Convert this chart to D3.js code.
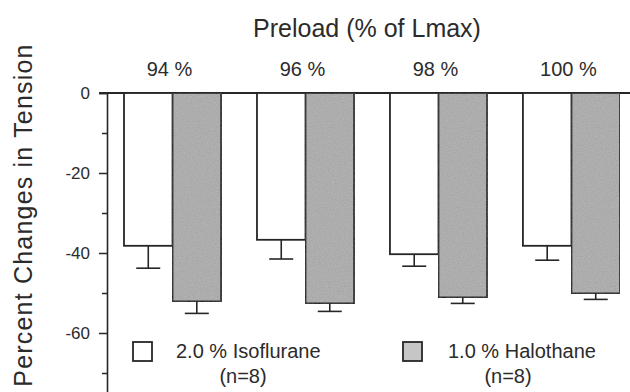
<!DOCTYPE html>
<html>
<head>
<meta charset="utf-8">
<script src="https://cdn.jsdelivr.net/npm/d3@7"></script>
<style>
  body { margin: 0; background: #fff; }
  svg text { font-family: "Liberation Sans", Arial, Helvetica, sans-serif; fill: #2b2b2b; }
</style>
</head>
<body>
<div id="chart"></div>
<script>
// Preload levels (% of Lmax)
const categories = ['94 %', '96 %', '98 %', '100 %'];
const seriesNames = ['2.0 % Isoflurane', '1.0 % Halothane'];
// Mean percent change in tension and SE
const isofluraneMean = [-38.2, -36.7, -40.3, -38.2];
const isofluraneSE = [5.6, 4.8, 3.0, 3.6];
const halothaneMean = [-52.1, -52.6, -51.1, -50.1];
const halothaneSE = [3.0, 2.0, 1.5, 1.5];
const yTicks = [0, -10, -20, -30, -40, -50, -60, -70];

const width = 630, height = 392;
const fills = ['#ffffff', '#b3b3b3'];
const ink = '#262626';

const svg = d3.select('#chart').append('svg')
    .attr('width', width)
    .attr('height', height);

// Texture granuleuse des barres grises
const defs = svg.append('defs');
const grain = defs.append('filter')
    .attr('id', 'grain')
    .attr('x', 0).attr('y', 0).attr('width', 1).attr('height', 1);
grain.append('feTurbulence')
    .attr('type', 'fractalNoise')
    .attr('baseFrequency', 0.8)
    .attr('numOctaves', 2)
    .attr('seed', 3)
    .attr('result', 'noise');
grain.append('feColorMatrix')
    .attr('in', 'noise')
    .attr('type', 'matrix')
    .attr('values', '0 0 0 0 0.2  0 0 0 0 0.2  0 0 0 0 0.2  0 0 0 0.5 -0.12')
    .attr('result', 'specks');
grain.append('feComposite')
    .attr('in', 'specks')
    .attr('in2', 'SourceGraphic')
    .attr('operator', 'in')
    .attr('result', 'clipped');
const merge = grain.append('feMerge');
merge.append('feMergeNode').attr('in', 'SourceGraphic');
merge.append('feMergeNode').attr('in', 'clipped');

const data = categories.map((c, i) => ({
    cat: c,
    bars: [
        { s: 0, mean: isofluraneMean[i], se: isofluraneSE[i] },
        { s: 1, mean: halothaneMean[i], se: halothaneSE[i] }
    ]
}));

// Échelles
const x0 = d3.scaleBand()
    .domain(categories)
    .range([124, 620])
    .paddingInner(0.27)
    .paddingOuter(0);

const x1 = d3.scaleBand()
    .domain([0, 1])
    .range([0, x0.bandwidth()]);

const y = d3.scaleLinear()
    .domain([0, -75])
    .range([93, 393]);

const axisX = 107;

// Axe Y (ticks majeurs + mineurs)
const yAxis = svg.append('g')
    .attr('transform', `translate(${axisX},0)`)
    .call(d3.axisLeft(y)
        .tickValues(yTicks)
        .tickSize(8)
        .tickPadding(9)
        .tickFormat(d => d % 20 === 0 ? String(d) : ''));

yAxis.select('.domain').attr('stroke', ink).attr('stroke-width', 1.6);
yAxis.selectAll('.tick line')
    .attr('stroke', ink)
    .attr('stroke-width', 1.5)
    .attr('x2', d => d % 20 === 0 ? -8 : -5);
yAxis.selectAll('.tick text')
    .style('font-size', '17px')
    .attr('dy', '0.35em');

// Ligne du zéro
svg.append('line')
    .attr('x1', axisX - 8)
    .attr('x2', width)
    .attr('y1', y(0))
    .attr('y2', y(0))
    .attr('stroke', ink)
    .attr('stroke-width', 1.8);

// Barres
const groups = svg.selectAll('.grp')
    .data(data)
    .enter()
    .append('g')
    .attr('class', 'grp')
    .attr('transform', d => `translate(${x0(d.cat)},0)`);

groups.selectAll('rect')
    .data(d => d.bars)
    .enter()
    .append('rect')
    .attr('x', d => x1(d.s))
    .attr('y', y(0))
    .attr('width', x1.bandwidth())
    .attr('height', d => y(d.mean) - y(0))
    .attr('fill', d => fills[d.s])
    .attr('filter', d => d.s === 1 ? 'url(#grain)' : null)
    .attr('stroke', ink)
    .attr('stroke-width', 1.8);

// Barres d'erreur (vers le bas seulement)
const errs = groups.selectAll('.err')
    .data(d => d.bars)
    .enter()
    .append('g')
    .attr('class', 'err')
    .attr('stroke', ink)
    .attr('stroke-width', 1.6);

errs.append('line')
    .attr('x1', d => x1(d.s) + x1.bandwidth() / 2)
    .attr('x2', d => x1(d.s) + x1.bandwidth() / 2)
    .attr('y1', d => y(d.mean))
    .attr('y2', d => y(d.mean - d.se));

errs.append('line')
    .attr('x1', d => x1(d.s) + x1.bandwidth() / 2 - 12)
    .attr('x2', d => x1(d.s) + x1.bandwidth() / 2 + 12)
    .attr('y1', d => y(d.mean - d.se))
    .attr('y2', d => y(d.mean - d.se));

// Libellés des catégories
svg.selectAll('.cat')
    .data(categories)
    .enter()
    .append('text')
    .attr('class', 'cat')
    .attr('x', d => x0(d) + x0.bandwidth() / 2 - 3)
    .attr('y', 76)
    .attr('text-anchor', 'middle')
    .style('font-size', '20px')
    .text(d => d);

// Titres
svg.append('text')
    .attr('x', 367)
    .attr('y', 37)
    .attr('text-anchor', 'middle')
    .style('font-size', '25px')
    .text('Preload (% of Lmax)');

svg.append('text')
    .attr('transform', 'translate(32,215) rotate(-90)')
    .attr('text-anchor', 'middle')
    .style('font-size', '25px')
    .style('letter-spacing', '1.2px')
    .text('Percent Changes in Tension');

// Légende
const legendPos = [{ bx: 133, tx: 176, nx: 243 }, { bx: 403, tx: 448, nx: 508 }];
const legend = svg.selectAll('.leg')
    .data(seriesNames)
    .enter()
    .append('g')
    .attr('class', 'leg');

legend.append('rect')
    .attr('x', (d, i) => legendPos[i].bx)
    .attr('y', 342)
    .attr('width', 19)
    .attr('height', 19)
    .attr('fill', (d, i) => i === 0 ? '#ffffff' : '#c6c6c6')
    .attr('stroke', ink)
    .attr('stroke-width', 1.8);

legend.append('text')
    .attr('x', (d, i) => legendPos[i].tx)
    .attr('y', 358)
    .style('font-size', '20px')
    .text(d => d);

legend.append('text')
    .attr('x', (d, i) => legendPos[i].nx)
    .attr('y', 383)
    .attr('text-anchor', 'middle')
    .style('font-size', '20px')
    .text('(n=8)');
</script>
</body>
</html>
